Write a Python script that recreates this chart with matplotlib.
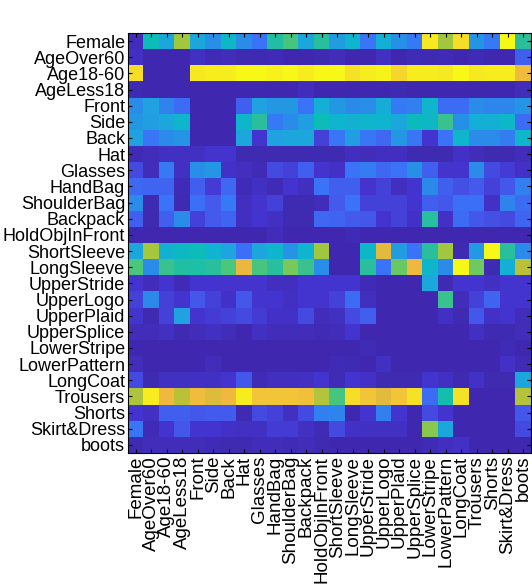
#!/usr/bin/env python3

import numpy as np
import matplotlib
matplotlib.use("Agg")
import matplotlib.pyplot as plt
from matplotlib.colors import LinearSegmentedColormap


attributes = [
    "Female", "AgeOver60", "Age18-60", "AgeLess18", "Front", "Side", "Back",
    "Hat", "Glasses", "HandBag", "ShoulderBag", "Backpack", "HoldObjInFront",
    "ShortSleeve", "LongSleeve", "UpperStride", "UpperLogo", "UpperPlaid",
    "UpperSplice", "LowerStripe", "LowerPattern", "LongCoat", "Trousers",
    "Shorts", "Skirt&Dress", "boots",
]

# one row per attribute (rows = y labels, columns = x labels)
weights = [
    [0.05, 0.50, 0.40, 0.75, 0.40, 0.32, 0.47, 0.30, 0.22, 0.55, 0.63, 0.40, 0.57, 0.36, 0.45, 0.23, 0.43, 0.32, 0.24, 0.97, 0.75, 0.95, 0.33, 0.24, 1.00, 0.57],
    [0.07, 0.02, 0.02, 0.02, 0.07, 0.04, 0.05, 0.03, 0.03, 0.04, 0.02, 0.02, 0.03, 0.05, 0.02, 0.02, 0.07, 0.02, 0.04, 0.03, 0.04, 0.02, 0.04, 0.02, 0.02, 0.17],
    [0.95, 0.02, 0.02, 0.02, 0.97, 0.98, 0.98, 1.00, 1.00, 0.99, 1.00, 0.98, 1.00, 1.00, 0.96, 0.98, 0.99, 0.94, 0.98, 0.98, 0.97, 1.00, 0.97, 0.98, 0.98, 0.88],
    [0.03, 0.02, 0.02, 0.02, 0.02, 0.02, 0.02, 0.02, 0.02, 0.02, 0.02, 0.05, 0.02, 0.02, 0.02, 0.02, 0.02, 0.03, 0.02, 0.02, 0.02, 0.02, 0.02, 0.02, 0.02, 0.05],
    [0.30, 0.38, 0.27, 0.20, 0.02, 0.02, 0.02, 0.17, 0.38, 0.34, 0.34, 0.22, 0.43, 0.34, 0.29, 0.31, 0.42, 0.24, 0.26, 0.46, 0.20, 0.20, 0.30, 0.28, 0.28, 0.33],
    [0.34, 0.37, 0.40, 0.46, 0.02, 0.02, 0.02, 0.46, 0.57, 0.24, 0.30, 0.37, 0.50, 0.45, 0.44, 0.46, 0.45, 0.40, 0.49, 0.47, 0.60, 0.32, 0.43, 0.43, 0.47, 0.20],
    [0.38, 0.23, 0.30, 0.33, 0.02, 0.02, 0.02, 0.40, 0.10, 0.38, 0.40, 0.40, 0.12, 0.23, 0.37, 0.23, 0.19, 0.34, 0.23, 0.10, 0.22, 0.46, 0.30, 0.30, 0.25, 0.46],
    [0.04, 0.05, 0.07, 0.07, 0.07, 0.09, 0.09, 0.03, 0.03, 0.03, 0.03, 0.03, 0.03, 0.03, 0.06, 0.05, 0.06, 0.06, 0.03, 0.03, 0.03, 0.08, 0.05, 0.03, 0.03, 0.05],
    [0.13, 0.05, 0.24, 0.07, 0.31, 0.34, 0.08, 0.06, 0.04, 0.13, 0.12, 0.17, 0.09, 0.08, 0.22, 0.25, 0.19, 0.22, 0.32, 0.17, 0.09, 0.09, 0.30, 0.13, 0.11, 0.08],
    [0.19, 0.18, 0.18, 0.04, 0.17, 0.11, 0.19, 0.04, 0.07, 0.04, 0.10, 0.06, 0.22, 0.17, 0.17, 0.09, 0.12, 0.06, 0.10, 0.29, 0.17, 0.14, 0.16, 0.12, 0.15, 0.26],
    [0.30, 0.03, 0.22, 0.03, 0.21, 0.16, 0.24, 0.06, 0.09, 0.12, 0.03, 0.03, 0.05, 0.16, 0.22, 0.12, 0.12, 0.12, 0.10, 0.17, 0.15, 0.21, 0.21, 0.08, 0.27, 0.20],
    [0.17, 0.03, 0.17, 0.30, 0.12, 0.16, 0.18, 0.06, 0.10, 0.07, 0.03, 0.03, 0.19, 0.18, 0.16, 0.15, 0.10, 0.12, 0.08, 0.56, 0.08, 0.20, 0.15, 0.14, 0.13, 0.18],
    [0.02, 0.02, 0.02, 0.02, 0.02, 0.02, 0.02, 0.02, 0.02, 0.05, 0.02, 0.02, 0.02, 0.02, 0.04, 0.02, 0.02, 0.02, 0.02, 0.02, 0.02, 0.02, 0.02, 0.02, 0.02, 0.02],
    [0.40, 0.76, 0.44, 0.48, 0.50, 0.45, 0.39, 0.21, 0.40, 0.46, 0.33, 0.45, 0.75, 0.02, 0.02, 0.47, 0.85, 0.36, 0.22, 0.57, 0.75, 0.03, 0.35, 1.00, 0.57, 0.30],
    [0.64, 0.30, 0.60, 0.55, 0.54, 0.57, 0.64, 0.86, 0.63, 0.57, 0.70, 0.60, 0.31, 0.02, 0.02, 0.57, 0.22, 0.68, 0.87, 0.46, 0.30, 1.00, 0.69, 0.03, 0.43, 0.79],
    [0.10, 0.05, 0.10, 0.04, 0.10, 0.10, 0.09, 0.09, 0.09, 0.06, 0.06, 0.10, 0.10, 0.10, 0.10, 0.04, 0.02, 0.02, 0.02, 0.40, 0.03, 0.10, 0.10, 0.07, 0.10, 0.10],
    [0.12, 0.29, 0.12, 0.10, 0.15, 0.12, 0.08, 0.15, 0.10, 0.10, 0.07, 0.10, 0.10, 0.12, 0.20, 0.06, 0.02, 0.02, 0.02, 0.02, 0.60, 0.05, 0.12, 0.18, 0.10, 0.10],
    [0.10, 0.03, 0.12, 0.38, 0.10, 0.11, 0.12, 0.13, 0.11, 0.08, 0.08, 0.13, 0.05, 0.07, 0.13, 0.17, 0.02, 0.02, 0.02, 0.02, 0.07, 0.03, 0.15, 0.08, 0.10, 0.05],
    [0.05, 0.05, 0.07, 0.03, 0.05, 0.07, 0.05, 0.02, 0.07, 0.05, 0.05, 0.05, 0.04, 0.05, 0.10, 0.02, 0.02, 0.02, 0.02, 0.02, 0.02, 0.02, 0.07, 0.03, 0.03, 0.05],
    [0.02, 0.02, 0.02, 0.02, 0.02, 0.02, 0.02, 0.02, 0.02, 0.02, 0.02, 0.02, 0.02, 0.02, 0.02, 0.04, 0.02, 0.02, 0.02, 0.02, 0.02, 0.02, 0.02, 0.02, 0.04, 0.02],
    [0.05, 0.02, 0.02, 0.02, 0.02, 0.05, 0.02, 0.02, 0.02, 0.02, 0.02, 0.02, 0.02, 0.04, 0.03, 0.02, 0.07, 0.02, 0.02, 0.02, 0.02, 0.02, 0.02, 0.02, 0.08, 0.04],
    [0.13, 0.03, 0.07, 0.07, 0.07, 0.07, 0.10, 0.15, 0.04, 0.06, 0.06, 0.07, 0.10, 0.04, 0.10, 0.08, 0.03, 0.03, 0.03, 0.10, 0.07, 0.03, 0.08, 0.03, 0.03, 0.40],
    [0.77, 0.98, 0.87, 0.79, 0.88, 0.84, 0.87, 0.98, 0.90, 0.90, 0.90, 0.89, 0.78, 0.63, 0.95, 0.90, 0.85, 0.90, 0.96, 0.20, 0.52, 0.96, 0.02, 0.02, 0.02, 0.78],
    [0.10, 0.07, 0.17, 0.17, 0.15, 0.16, 0.16, 0.03, 0.13, 0.12, 0.07, 0.13, 0.26, 0.27, 0.02, 0.10, 0.26, 0.10, 0.02, 0.13, 0.10, 0.02, 0.02, 0.02, 0.02, 0.15],
    [0.23, 0.04, 0.10, 0.15, 0.10, 0.10, 0.08, 0.07, 0.07, 0.11, 0.11, 0.07, 0.04, 0.13, 0.08, 0.07, 0.07, 0.07, 0.02, 0.72, 0.40, 0.02, 0.02, 0.02, 0.02, 0.13],
    [0.03, 0.05, 0.05, 0.05, 0.05, 0.04, 0.03, 0.03, 0.05, 0.05, 0.04, 0.05, 0.03, 0.02, 0.02, 0.02, 0.02, 0.02, 0.02, 0.04, 0.06, 0.08, 0.02, 0.02, 0.02, 0.02],
]

# parula-like colormap anchors
cmap_stops = [0.00, 0.10, 0.15, 0.22, 0.30, 0.38, 0.45, 0.50, 0.58, 0.65, 0.75, 0.80, 0.87, 0.93, 1.00]
cmap_colors = ["#3e26a8", "#4535d0", "#4458ec", "#3a74f8", "#2a8ce8", "#20a2e0",
               "#10b4d0", "#0cbcb8", "#30c098", "#50c878", "#a0c840", "#c0c038",
               "#f0b840", "#f4d030", "#f8f818"]


def main():
    plt.rcParams["font.family"] = ["Liberation Sans", "DejaVu Sans"]
    cmap = LinearSegmentedColormap.from_list("parula_like", list(zip(cmap_stops, cmap_colors)))

    fig = plt.figure(figsize=(5.32, 5.86), dpi=100)
    ax = fig.add_axes([128 / 532, 1 - 453 / 586, 403 / 532, 420 / 586])

    data = np.array(weights)
    ax.imshow(data, cmap=cmap, vmin=0, vmax=1, aspect="auto", interpolation="nearest")

    n = len(attributes)
    ax.set_xticks(range(n))
    ax.set_yticks(range(n))
    ax.set_xticklabels(attributes, rotation=90, fontsize=13.5)
    ax.set_yticklabels(attributes, fontsize=13)
    ax.tick_params(direction="in", length=3, width=0.8, top=True, right=True, pad=2)
    for sp in ax.spines.values():
        sp.set_linewidth(0.8)

    # title sits mostly above the top edge of the image, as in the reference
    fig.text(0.5, 1.0 + 4 / 586, "Learned weights (b) attribute pairs, y",
             ha="center", va="baseline", fontsize=13)

    fig.savefig("out.png", dpi=100)
    plt.close(fig)


if __name__ == "__main__":
    main()
